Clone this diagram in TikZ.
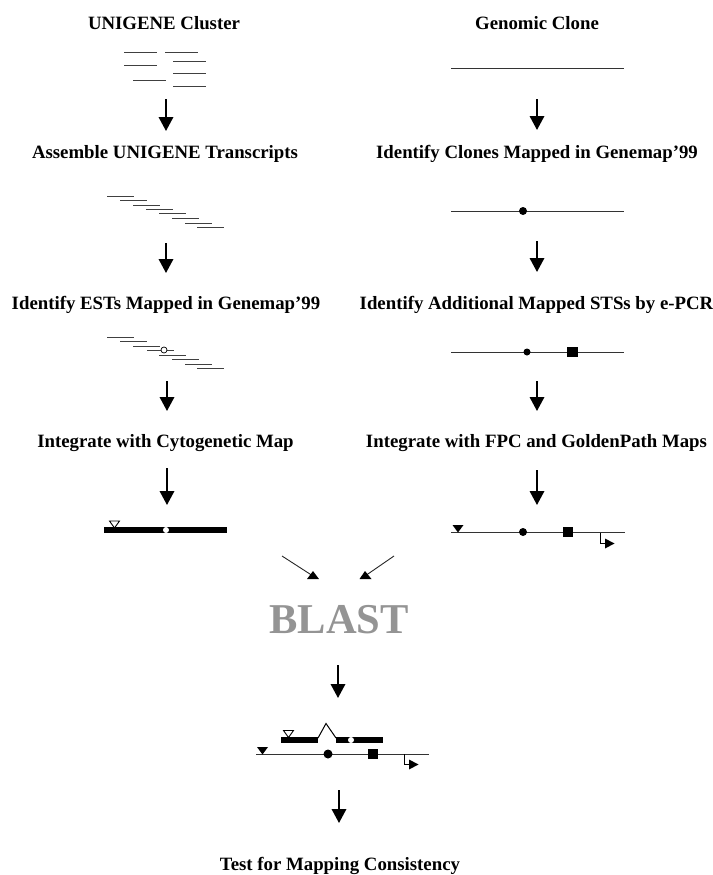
\documentclass[tikz,border=0pt]{standalone}
\usepackage{fontspec}
\setmainfont{Liberation Serif}
\usetikzlibrary{arrows.meta}
\tikzset{
  title/.style={font=\fontsize{18.8}{22}\selectfont\bfseries,inner sep=0pt,anchor=base,text=black},
  flow/.style={line width=1.9pt,-{Triangle[length=14pt,width=14.5pt]},shorten >=0pt},
  diag/.style={line width=0.9pt,black!85},
  thin line/.style={line width=1pt,black!80},
  seq/.style={line width=1pt,black!75},
  bar/.style={line width=6.5pt},
  bigdot/.style={circle,fill=black,inner sep=0pt,minimum size=8pt},
  smalldot/.style={circle,fill=black,inner sep=0pt,minimum size=7pt},
  opendot/.style={circle,draw=black,fill=white,line width=.7pt,inner sep=0pt,minimum size=6pt},
  whitedot/.style={circle,fill=white,inner sep=0pt,minimum size=6pt},
  sq/.style={rectangle,fill=black,inner sep=0pt,minimum size=10.5pt},
}
\newcommand{\solidtri}[2]{\fill (#1-5.5,#2-7.5) -- (#1+5.5,#2-7.5) -- (#1,#2) -- cycle;}
\newcommand{\opentri}[2]{\draw[line width=.9pt,fill=white] (#1-5,#2-8) -- (#1+5,#2-8) -- (#1,#2-1) -- cycle;}
\newcommand{\hook}[2]{\draw[line width=1pt] (#1,#2) -- (#1,#2+10) -- (#1+6,#2+10);
  \fill (#1+5,#2+5.5) -- (#1+14.5,#2+10.5) -- (#1+5,#2+15.5) -- cycle;}
\begin{document}
\begin{tikzpicture}[x=1pt,y=-1pt]
\useasboundingbox (0,0) rectangle (712,875);
% titles
\node[title] (t1) at (164,30) {UNIGENE Cluster};
\node[title] (t2) at (537,30) {Genomic Clone};
\node[title] (t3) at (165,158.5) {Assemble UNIGENE Transcripts};
\node[title] (t4) at (537,158.5) {Identify Clones Mapped in Genemap’99};
\node[title] (t5) at (166,309.5) {Identify ESTs Mapped in Genemap’99};
\node[title] (t6) at (536.5,309.5) {Identify Additional Mapped STSs by e-PCR};
\node[title] (t7) at (165.5,447.5) {Integrate with Cytogenetic Map};
\node[title] (t8) at (536.5,447.5) {Integrate with FPC and GoldenPath Maps};
\node[title] (t9) at (340,870.5) {Test for Mapping Consistency};
\node[font=\fontsize{42.5}{46}\selectfont\bfseries,text=black!42,inner sep=0pt,anchor=base] (blast) at (339,633) {BLAST};
% cluster
\foreach \a/\b/\y in {124/157/53,165/198/53,124/157/66,173/206/62,173/206/73,133/166/80,173/206/86}
  \draw[seq] (\a,\y) -- (\b,\y);
% staircase 1
\foreach \a/\y in {107/196,120/200,133/205,146/209,159/213.5,172/218,185/223,197/227}
  \draw[seq] (\a,\y) -- (\a+27,\y);
% staircase 2
\foreach \a/\y in {107/337,120/341,133/346,147/350,159/355,172/359,185/364,197/368}
  \draw[seq] (\a,\y) -- (\a+27,\y);
\node[opendot] (est) at (164,350) {};
% cytogenetic bar
\draw[bar] (104,530) -- (227,530);
\opentri{114.5}{529}
\node[whitedot] (cy) at (166,530) {};
% genomic clone lines
\draw[thin line] (451,69) -- (624,69);
\draw[thin line] (451,211) -- (624,211);
\node[bigdot] (m1) at (523,211) {};
\draw[thin line] (451,352) -- (624,352);
\node[smalldot] (m2) at (527,352) {};
\node[sq] (s2) at (572.5,352) {};
% FPC line
\draw[thin line] (451,532) -- (625,532);
\solidtri{458}{532.5}
\node[bigdot] (m3) at (523,532) {};
\node[sq] (s3) at (568,532) {};
\hook{600}{533}
% diagonal arrows
\coordinate (dl) at (282,556);
\coordinate (dla) at (313,576);
\coordinate (dr) at (394,556);
\coordinate (dra) at (365,576);
\draw[diag] (dl) -- (dla);
\draw[diag] (dr) -- (dra);
\fill (307,579) -- (319,579) -- (313,571) -- cycle;
\fill (359.5,579) -- (371.5,579) -- (365,571) -- cycle;
% merged
\draw[bar] (281,740) -- (318,740);
\draw[bar] (336,740) -- (383,740);
\draw[line width=1pt] (318,738) -- (326,723.5) -- (336,738);
\opentri{288.5}{738.5}
\node[whitedot] (mw) at (351,740) {};
\draw[thin line] (256,754) -- (429,754);
\solidtri{262.5}{754.5}
\node[bigdot,minimum size=9pt] (m4) at (328,754) {};
\node[sq] (s4) at (373,754) {};
\hook{404}{754}
% vertical arrows
\foreach \n/\x/\a/\b in {a/166/99/131,b/537/99/130,c/166/243/273,d/537/241/272,e/167/381/411,f/537/381/411,g/167/468/505,h/537/470/505,i/338/665/698,j/339/790/823}{
  \coordinate (\n s) at (\x,\a);
  \coordinate (\n e) at (\x,\b);
  \draw[flow] (\n s) -- (\n e);
}
\end{tikzpicture}
\end{document}
